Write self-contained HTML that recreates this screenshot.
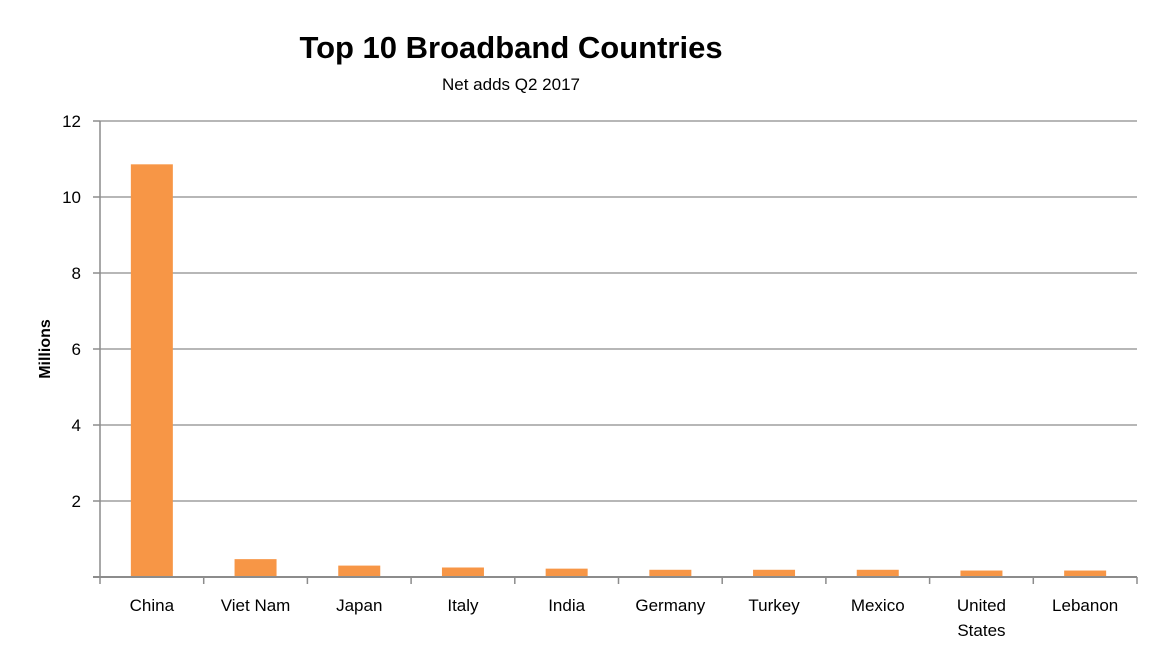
<!DOCTYPE html>
<html><head><meta charset="utf-8"><style>
body{margin:0;background:#fff;width:1164px;height:656px;overflow:hidden;font-family:"Liberation Sans",sans-serif}
</style></head><body>
<svg id="chart" width="1164" height="656" xmlns="http://www.w3.org/2000/svg" font-family="Liberation Sans, sans-serif">
<text x="511" y="58" text-anchor="middle" font-size="31" font-weight="bold">Top 10 Broadband Countries</text>
<text x="511" y="90" text-anchor="middle" font-size="17">Net adds Q2 2017</text>
<text transform="translate(50,349) rotate(-90)" text-anchor="middle" font-size="16" font-weight="bold">Millions</text>
<g id="grid"></g><g id="bars"></g><g id="axes"></g>
</svg>
<script>
const categories=["China","Viet Nam","Japan","Italy","India","Germany","Turkey","Mexico","United States","Lebanon"];
const values=[10.86,0.47,0.30,0.25,0.22,0.19,0.19,0.19,0.17,0.17];
const yTicks=[0,2,4,6,8,10,12];
const NS="http://www.w3.org/2000/svg";
const x0=100,x1=1137,yb=577,yt=121,ymax=12;
const y=v=>yb-(v/ymax)*(yb-yt);
const bw=(x1-x0)/categories.length;
const grid=document.getElementById('grid'),bars=document.getElementById('bars'),axes=document.getElementById('axes');
function mk(t,a,p){const e=document.createElementNS(NS,t);for(const k in a)e.setAttribute(k,a[k]);p.appendChild(e);return e;}
yTicks.forEach(v=>{
  if(v>0){const l=mk('line',{x1:x0,x2:x1,y1:y(v),y2:y(v),stroke:'#8c8c8c','stroke-width':1.3},grid);
  
  }
  const tk=mk('line',{x1:x0-7,x2:x0,y1:y(v),y2:y(v),stroke:'#8c8c8c','stroke-width':1.5},axes);
  
  
  if(v>0){const t=mk('text',{x:x0-19,y:y(v)+6,'text-anchor':'end','font-size':17},axes);t.textContent=v;
  
  }
});
const ya=mk('line',{x1:x0,x2:x0,y1:yt,y2:yb,stroke:'#8c8c8c','stroke-width':1.5},axes);


const xa=mk('line',{x1:x0-7,x2:x1,y1:yb,y2:yb,stroke:'#8c8c8c','stroke-width':2},axes);


for(let i=0;i<=categories.length;i++){
  const tx=x0+i*bw;
  const t=mk('line',{x1:tx,x2:tx,y1:yb,y2:yb+7,stroke:'#8c8c8c','stroke-width':1.5},axes);
  
  
}
categories.forEach((c,i)=>{
  const cx=x0+(i+0.5)*bw;
  const r=mk('rect',{x:cx-21,y:y(values[i]),width:42,height:yb-y(values[i]),fill:'#f79646'},bars);
  
  
  const words=c==="United States"?["United","States"]:[c];
  words.forEach((w,j)=>{
    const t=mk('text',{x:cx,y:611+j*25,'text-anchor':'middle','font-size':17},axes);t.textContent=w;
    
    
  });
});
</script>
</body></html>
